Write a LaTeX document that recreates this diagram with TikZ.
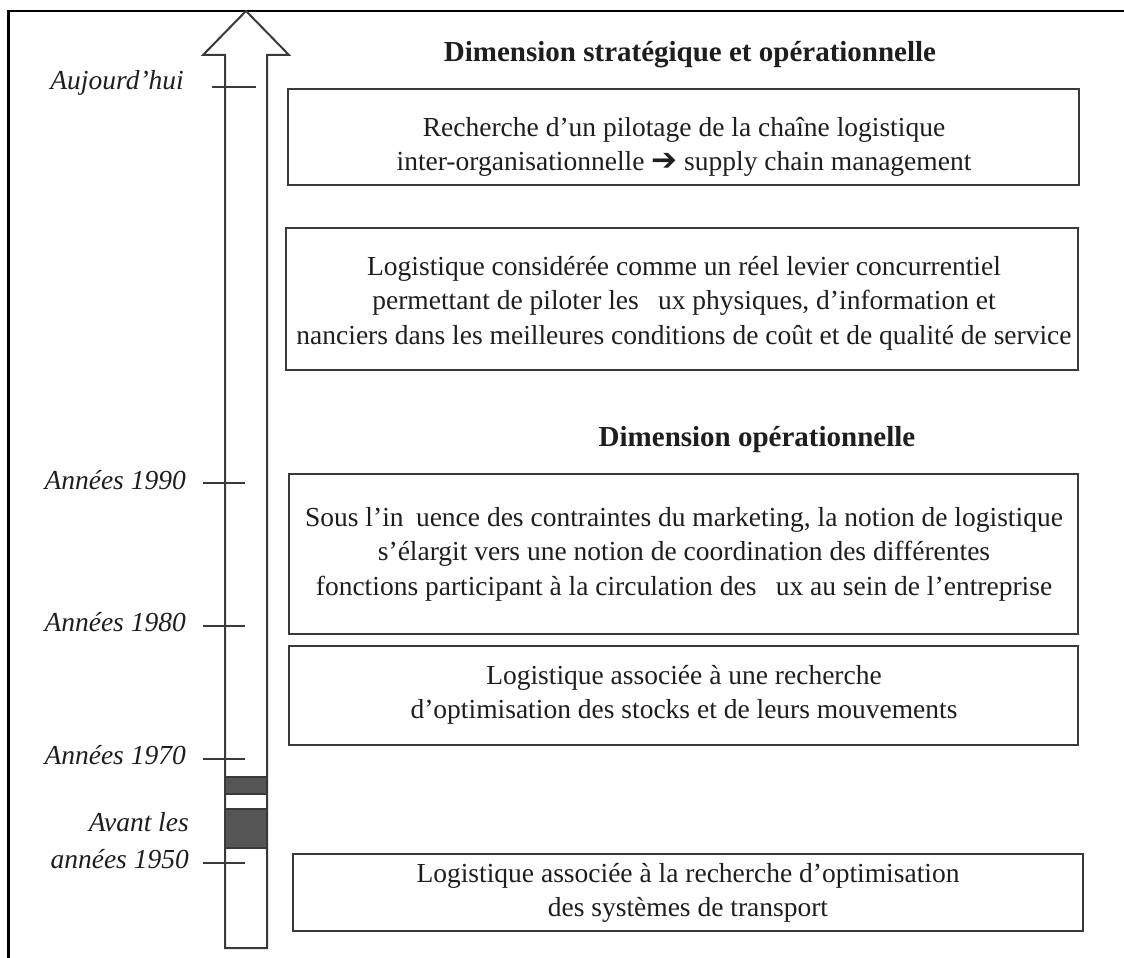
\documentclass[tikz,border=0pt]{standalone}
\usepackage{fontspec}
\setmainfont{Liberation Serif}
\newfontfamily\symfont{DejaVu Sans}
\definecolor{txtc}{HTML}{1E1E1E}
\definecolor{boxc}{HTML}{3A3A3A}
\definecolor{blkc}{HTML}{555555}
\begin{document}
\begin{tikzpicture}[x=1pt,y=-1pt,
  box/.style={draw=boxc, line width=2pt, inner sep=0pt, fill=white},
  txt/.style={align=center, text=txtc, inner sep=0pt, font=\fontsize{27.5}{34.5}\selectfont},
  lab/.style={align=right, anchor=east, text=txtc, inner sep=0pt, font=\itshape\fontsize{27.5}{37}\selectfont},
  ttl/.style={text=txtc, inner sep=0pt, font=\bfseries\fontsize{29}{34}\selectfont},
  tickline/.style={draw=boxc, line width=2pt},
  shaft/.style={draw=boxc, line width=2pt, fill=white, line join=miter},
  blk/.style={fill=blkc, draw=boxc, line width=1.5pt}]
\useasboundingbox (0,0) rectangle (1124,958);
% frame (left and top only visible)
\draw[line width=2.2pt, black] (8.5,960) -- (8.5,11) -- (1126,11);
% timeline arrow
\draw[shaft] (225,948) -- (225,55) -- (203,55) -- (246,11) -- (289,55) -- (267,55) -- (267,948) -- cycle;
% dark blocks
\draw[blk] (225,777) rectangle (267,794);
\draw[blk] (225,809) rectangle (267,848);
% ticks
\draw[tickline] (212,87) -- (256,87);
\draw[tickline] (203,483) -- (245,483);
\draw[tickline] (203,626) -- (245,626);
\draw[tickline] (203,759) -- (245,759);
\draw[tickline] (203,863) -- (245,863);
% labels
\node[lab] (l0) at (184,83) {Aujourd’hui};
\node[lab] (l1) at (186,480) {Années 1990};
\node[lab] (l2) at (186,622) {Années 1980};
\node[lab] (l3) at (186,755) {Années 1970};
\node[lab] (l4) at (189,841) {Avant les\\années 1950};
% titles
\node[ttl] (t1) at (690,55) {Dimension stratégique et opérationnelle};
\node[ttl] (t2) at (757,440) {Dimension opérationnelle};
% boxes
\node[box, minimum width=791pt, minimum height=96pt] (bA) at (683.5,137) {};
\node[box, minimum width=792pt, minimum height=142pt] (bB) at (682,299) {};
\node[box, minimum width=789pt, minimum height=160pt] (bC) at (683.5,554) {};
\node[box, minimum width=789pt, minimum height=99pt] (bD) at (683.5,695.5) {};
\node[box, minimum width=790pt, minimum height=77pt] (bE) at (688,892.5) {};
% box texts
\node[txt] (xA) at (684,147) {Recherche d’un pilotage de la chaîne logistique\\inter-organisationnelle {\symfont\fontsize{31}{34.5}\selectfont ➔} supply chain management};
\node[txt] (xB) at (684,303) {Logistique considérée comme un réel levier concurrentiel\\permettant de piloter les \hspace{0.45em}ux physiques, d’information et\\nanciers dans les meilleures conditions de coût et de qualité de service};
\node[txt] (xC) at (684,554) {Sous l’in\hspace{0.45em}uence des contraintes du marketing, la notion de logistique\\s’élargit vers une notion de coordination des différentes\\fonctions participant à la circulation des \hspace{0.45em}ux au sein de l’entreprise};
\node[txt] (xD) at (684,695) {Logistique associée à une recherche\\d’optimisation des stocks et de leurs mouvements};
\node[txt] (xE) at (688,893) {Logistique associée à la recherche d’optimisation\\des systèmes de transport};
\end{tikzpicture}
\end{document}
